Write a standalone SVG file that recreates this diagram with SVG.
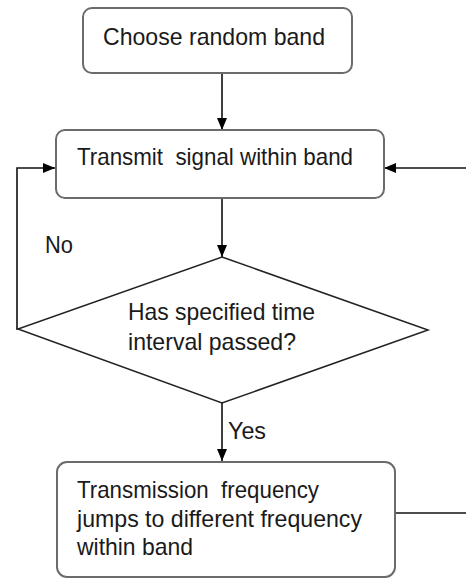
<svg xmlns="http://www.w3.org/2000/svg" width="466" height="579" viewBox="0 0 466 579">
<defs>
<style>
.box{fill:#fff;stroke:#6b6b6b;stroke-width:2}
.dia{fill:#fff;stroke:#222;stroke-width:1.5}
.ln{fill:none;stroke:#111;stroke-width:1.6}
text{font-family:"Liberation Sans",Arial,sans-serif;font-size:24px;fill:#1a1a1a;white-space:pre}
</style>
<marker id="ah" markerWidth="12" markerHeight="10" refX="12" refY="5" orient="auto" markerUnits="userSpaceOnUse">
<path d="M0,0 L12,5 L0,10 Z" fill="#000"/>
</marker>
</defs>
<rect width="466" height="579" fill="#fff"/>
<g id="connectors">
<line class="ln" x1="222" y1="73" x2="222" y2="130" marker-end="url(#ah)"/>
<line class="ln" x1="222" y1="198" x2="222" y2="257" marker-end="url(#ah)"/>
<line class="ln" x1="222" y1="403" x2="222" y2="461" marker-end="url(#ah)"/>
<polyline class="ln" points="18,329 17,329 17,168 55,168" marker-end="url(#ah)"/>
<line class="ln" x1="466" y1="168" x2="384" y2="168" marker-end="url(#ah)"/>
<line class="ln" x1="395" y1="513" x2="466" y2="513"/>
<text x="45" y="253" textLength="28" lengthAdjust="spacingAndGlyphs">No</text>
<text x="228" y="439" textLength="38" lengthAdjust="spacingAndGlyphs">Yes</text>
</g>
<g id="n1">
<rect class="box" x="83" y="8" width="269" height="65" rx="9"/>
<text x="103" y="45" textLength="222" lengthAdjust="spacingAndGlyphs">Choose random band</text>
</g>
<g id="n2">
<rect class="box" x="56" y="130" width="328" height="68" rx="9"/>
<text x="77" y="165" textLength="276" lengthAdjust="spacingAndGlyphs" xml:space="preserve">Transmit  signal within band</text>
</g>
<g id="n3">
<polygon class="dia" points="222,257 428,330 222,403 18,329"/>
<text x="128" y="320" textLength="187" lengthAdjust="spacingAndGlyphs">Has specified time</text>
<text x="128" y="350" textLength="168" lengthAdjust="spacingAndGlyphs">interval passed?</text>
</g>
<g id="n4">
<rect class="box" x="57" y="462" width="338" height="115" rx="10"/>
<text x="77" y="498" textLength="242" lengthAdjust="spacingAndGlyphs" xml:space="preserve">Transmission  frequency</text>
<text x="77" y="527" textLength="285" lengthAdjust="spacingAndGlyphs">jumps to different frequency</text>
<text x="77" y="555" textLength="116" lengthAdjust="spacingAndGlyphs">within band</text>
</g>
</svg>
